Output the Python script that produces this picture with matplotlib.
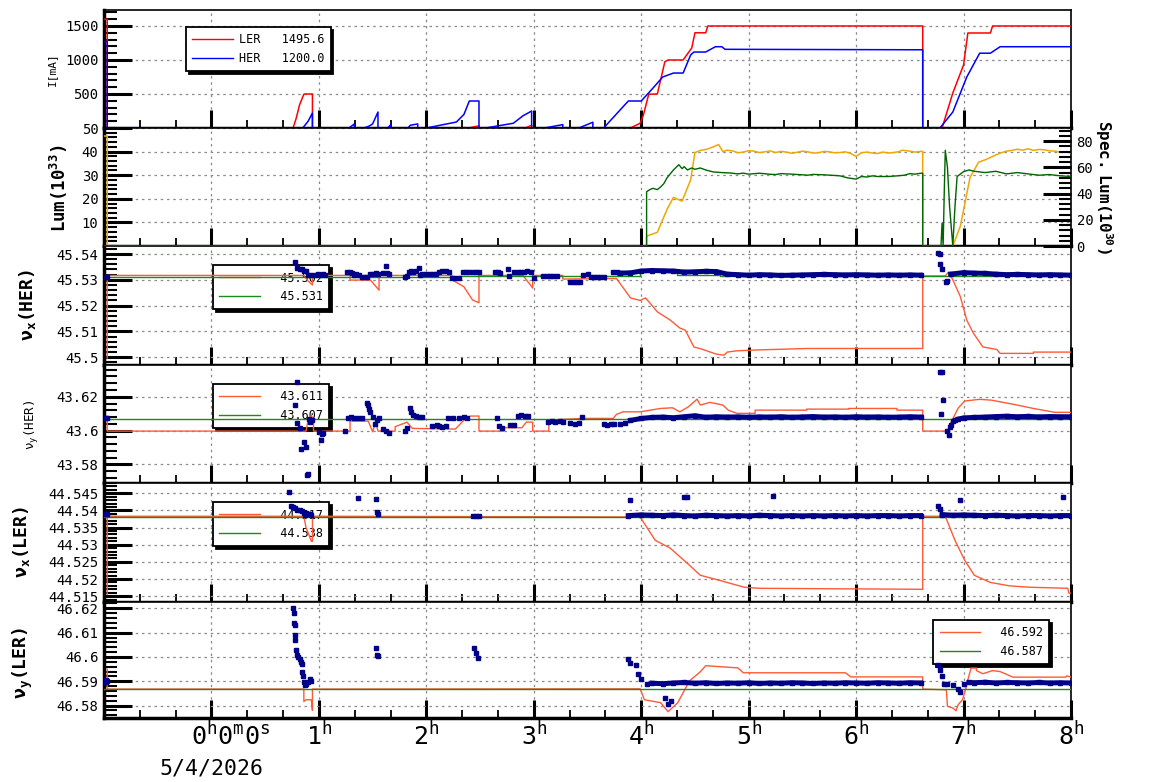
import numpy as np
import matplotlib.pyplot as plt
from matplotlib.ticker import MultipleLocator, FixedLocator, FuncFormatter
from matplotlib.lines import Line2D

plt.rcParams['font.family'] = ['DejaVu Sans Mono', 'DejaVu Sans']
plt.rcParams['mathtext.fontset'] = 'custom'
plt.rcParams['mathtext.rm'] = 'DejaVu Sans Mono'
plt.rcParams['mathtext.it'] = 'DejaVu Sans Mono'
plt.rcParams['mathtext.bf'] = 'DejaVu Sans Mono:bold'

# ---------------- data (time in hours from 0h0m0s) ----------------
# beam currents [mA]
LER_I = [(-1.0, 1600), (-0.97, 1600), (-0.97, 0), (0.76, 0), (0.79, 150), (0.82, 340), (0.86, 497),
         (0.875, 500), (0.94, 500), (0.94, 0), (2.4, 0), (2.45, 20), (2.49, 30), (2.49, 0), (2.92, 0),
         (2.98, 40), (2.98, 0), (3.9, 0), (3.99, 70), (4.02, 190), (4.07, 497), (4.15, 500), (4.22, 975),
         (4.25, 1000), (4.39, 1000), (4.47, 1176), (4.5, 1400), (4.6, 1400), (4.62, 1500), (6.62, 1500),
         (6.62, 0), (6.8, 0), (6.9, 515), (7.0, 926), (7.04, 1397), (7.25, 1397), (7.27, 1500), (8.0, 1500)]
HER_I = [(-1.0, 1270), (-0.97, 1270), (-0.97, 0), (0.85, 0), (0.9, 100), (0.94, 220), (0.94, 0),
         (1.28, 0), (1.33, 60), (1.33, 0), (1.42, 0), (1.47, 30), (1.5, 60), (1.55, 235), (1.55, 0),
         (1.64, 0), (1.67, 50), (1.67, 0), (1.83, 0), (1.85, 40), (1.92, 60), (1.92, 0), (2.0, 0),
         (2.28, 88), (2.35, 200), (2.4, 397), (2.49, 397), (2.49, 0), (2.55, 0), (2.81, 70), (2.9, 180),
         (2.98, 250), (2.98, 0), (3.1, 0), (3.27, 50), (3.27, 0), (3.42, 0), (3.55, 85), (3.55, 0),
         (3.65, 0), (3.88, 397), (4.0, 397), (4.11, 588), (4.2, 750), (4.3, 808), (4.39, 808),
         (4.46, 1073), (4.49, 1117), (4.6, 1117), (4.69, 1195), (4.75, 1195), (4.78, 1157),
         (6.62, 1150), (6.62, 0), (6.78, 0), (6.9, 235), (7.03, 750), (7.15, 1100), (7.25, 1100),
         (7.34, 1195), (8.0, 1195)]

# luminosity (left axis, 10^33) and specific luminosity (right axis, 10^30)
LUM = [(-1.0, 46.6), (-0.97, 46.6), (-0.97, 0), (4.05, 0), (4.05, 4.2), (4.15, 5.8), (4.24, 15.5),
       (4.3, 20.6), (4.38, 19.0), (4.46, 28.0), (4.5, 39.6), (4.55, 40.5), (4.61, 41.0), (4.67, 42.0),
       (4.72, 43.0), (4.76, 40.0), (4.8, 40.6), (4.85, 40.3), (4.9, 39.5), (4.95, 39.8), (5.0, 40.4),
       (5.05, 40.2), (5.1, 39.6), (5.15, 39.9), (5.2, 40.3), (5.25, 39.6), (5.3, 40.1), (5.35, 39.8),
       (5.4, 39.3), (5.45, 39.7), (5.5, 40.2), (5.55, 39.9), (5.6, 39.4), (5.65, 39.5), (5.7, 40.1),
       (5.75, 39.9), (5.8, 39.5), (5.85, 39.6), (5.9, 39.9), (5.95, 39.2), (6.0, 38.0), (6.05, 39.5),
       (6.1, 39.8), (6.15, 39.4), (6.2, 39.2), (6.25, 39.8), (6.3, 39.4), (6.35, 39.6), (6.4, 40.0),
       (6.43, 40.6), (6.5, 40.2), (6.55, 39.8), (6.6, 40.1), (6.62, 40.1), (6.62, 0), (6.9, 0),
       (6.97, 8.4), (7.06, 29.0), (7.14, 35.5), (7.2, 36.5), (7.25, 37.5), (7.3, 38.6), (7.35, 39.5),
       (7.4, 40.2), (7.45, 40.5), (7.5, 41.0), (7.55, 40.6), (7.6, 41.2), (7.65, 40.5), (7.7, 40.9),
       (7.75, 40.8), (7.8, 40.3), (7.85, 40.2), (7.9, 39.7), (7.95, 39.8), (8.0, 39.6)]
SPEC = [(-1.0, 0), (4.05, 0), (4.05, 41.4), (4.08, 43.0), (4.11, 44.0), (4.15, 43.0), (4.18, 45.0),
        (4.21, 47.5), (4.24, 52.0), (4.27, 55.0), (4.3, 58.0), (4.35, 62.0), (4.38, 59.0), (4.4, 60.5),
        (4.43, 58.0), (4.47, 59.5), (4.5, 58.5), (4.55, 59.5), (4.6, 58.0), (4.67, 56.5), (4.75, 56.0),
        (4.83, 55.7), (4.9, 55.0), (4.95, 55.6), (5.0, 54.8), (5.1, 55.5), (5.2, 54.7), (5.25, 54.5),
        (5.3, 55.2), (5.4, 54.8), (5.5, 54.3), (5.55, 54.0), (5.6, 54.6), (5.7, 54.3), (5.8, 53.8),
        (5.85, 53.5), (5.92, 52.0), (6.0, 51.0), (6.05, 53.0), (6.1, 52.6), (6.15, 53.5), (6.2, 53.0),
        (6.3, 53.0), (6.4, 53.6), (6.45, 54.0), (6.5, 55.2), (6.55, 54.8), (6.6, 55.5), (6.62, 55.5),
        (6.62, 0), (6.79, 0), (6.8, 17.5), (6.81, 0), (6.82, 40.0), (6.83, 73.0), (6.85, 60.0),
        (6.87, 30.0), (6.9, 0), (6.92, 30.0), (6.94, 53.0), (7.0, 56.7), (7.05, 58.0), (7.1, 57.0),
        (7.2, 56.0), (7.3, 57.0), (7.4, 55.0), (7.5, 56.0), (7.6, 55.0), (7.7, 54.0), (7.8, 54.5),
        (7.9, 53.5), (8.0, 53.0)]

# nu_x(HER): red = set value trace, green = reference, blue = measured
HERX_RED = [(-0.97, 45.4997), (-0.97, 45.5317), (0.86, 45.5317), (0.9, 45.5295), (0.94, 45.528),
            (0.94, 45.5317), (1.29, 45.5317), (1.29, 45.5299), (1.48, 45.5299), (1.56, 45.526),
            (1.56, 45.5317), (2.24, 45.5317), (2.24, 45.53), (2.35, 45.5273), (2.43, 45.5222),
            (2.49, 45.5211), (2.49, 45.5317), (2.9, 45.5317), (2.99, 45.5268), (2.99, 45.5317),
            (3.27, 45.5317), (3.27, 45.5303), (3.77, 45.5305), (3.9, 45.523), (3.99, 45.522),
            (4.04, 45.523), (4.15, 45.5176), (4.27, 45.5144), (4.36, 45.5113), (4.41, 45.5105),
            (4.49, 45.504), (4.56, 45.5032), (4.7, 45.5012), (4.77, 45.5008), (4.8, 45.502),
            (4.89, 45.5025), (5.06, 45.5028), (5.54, 45.5034), (6.62, 45.5034), (6.62, 45.5315),
            (6.83, 45.5315), (6.86, 45.533), (6.9, 45.53), (6.97, 45.5235), (7.03, 45.5144),
            (7.09, 45.5094), (7.18, 45.504), (7.31, 45.503), (7.34, 45.5015), (7.65, 45.5015),
            (7.65, 45.502), (8.0, 45.502)]
HERX_GREEN = [(-1.0, 45.5309), (2.3, 45.5309), (2.3, 45.5314), (3.99, 45.5314), (3.99, 45.5333),
              (4.33, 45.5333), (4.33, 45.532), (4.73, 45.532), (4.73, 45.5315), (8.0, 45.5315)]
HERX_PTS = [(-0.98, 45.531), (-0.97, 45.531), (0.78, 45.537), (0.8, 45.5345), (0.82, 45.5343),
            (0.84, 45.534), (0.86, 45.5336), (0.88, 45.5333), (0.9, 45.532), (0.93, 45.5318),
            (0.96, 45.532), (0.99, 45.5322), (1.01, 45.532), (1.04, 45.5322), (1.06, 45.532),
            (1.26, 45.5329), (1.29, 45.533), (1.31, 45.5328), (1.33, 45.532), (1.35, 45.5321),
            (1.37, 45.532), (1.4, 45.531), (1.43, 45.5312), (1.45, 45.5311), (1.48, 45.5322),
            (1.5, 45.5324), (1.53, 45.5325), (1.55, 45.5323), (1.6, 45.5325), (1.62, 45.5353),
            (1.63, 45.5326), (1.65, 45.5324), (1.8, 45.5312), (1.82, 45.5313), (1.84, 45.5331),
            (1.86, 45.5333), (1.88, 45.5332), (1.9, 45.5334), (1.93, 45.5347), (1.94, 45.532),
            (1.96, 45.5321), (2.0, 45.5322), (2.03, 45.5323), (2.06, 45.5322), (2.09, 45.5323),
            (2.12, 45.5329), (2.15, 45.5336), (2.18, 45.5334), (2.21, 45.533), (2.24, 45.5306),
            (2.27, 45.5307), (2.3, 45.5306), (2.34, 45.5329), (2.37, 45.533), (2.4, 45.5332),
            (2.43, 45.5331), (2.46, 45.5332), (2.49, 45.533), (2.64, 45.5329), (2.67, 45.533),
            (2.69, 45.5328), (2.76, 45.534), (2.77, 45.5315), (2.82, 45.5329), (2.85, 45.5331),
            (2.88, 45.5332), (2.91, 45.533), (2.94, 45.5333), (2.97, 45.533), (3.0, 45.5306),
            (3.09, 45.5315), (3.12, 45.5316), (3.15, 45.5314), (3.18, 45.5315), (3.22, 45.5316),
            (3.34, 45.5292), (3.37, 45.5293), (3.4, 45.5291), (3.43, 45.5292), (3.46, 45.532),
            (3.5, 45.5321), (3.53, 45.531), (3.56, 45.5311), (3.59, 45.5312), (3.62, 45.531),
            (3.65, 45.5311), (3.74, 45.5329), (3.77, 45.533), (6.76, 45.5402), (6.78, 45.5400),
            (6.78, 45.536), (6.8, 45.534), (6.84, 45.529), (6.85, 45.5295)]
HERX_BAND = [(3.8, 45.5326), (3.9, 45.5327), (4.0, 45.5334), (4.1, 45.5336), (4.2, 45.5335),
             (4.3, 45.5334), (4.4, 45.533), (4.5, 45.5331), (4.6, 45.5333), (4.7, 45.5332),
             (4.8, 45.5322), (4.9, 45.532), (5.0, 45.5318), (5.1, 45.532), (5.2, 45.5319),
             (5.3, 45.5317), (5.4, 45.5318), (5.5, 45.5319), (5.6, 45.532), (5.7, 45.5321),
             (5.8, 45.532), (5.9, 45.5319), (6.0, 45.532), (6.1, 45.5319), (6.2, 45.5318),
             (6.3, 45.5319), (6.4, 45.5318), (6.5, 45.5319), (6.6, 45.5318)]
HERX_BAND2 = [(6.88, 45.5322), (7.0, 45.5328), (7.1, 45.5326), (7.2, 45.5325), (7.3, 45.5322),
              (7.4, 45.532), (7.5, 45.5321), (7.6, 45.532), (7.7, 45.5319), (7.8, 45.532),
              (7.9, 45.5319), (8.0, 45.5318)]

# nu_y(HER)
HERY_RED = [(-0.97, 43.6082), (-0.97, 43.5997), (0.88, 43.5997), (0.9, 43.6062), (0.93, 43.609),
            (0.95, 43.6062), (0.95, 43.5997), (1.29, 43.5997), (1.29, 43.6056), (1.46, 43.6056),
            (1.5, 43.5993), (1.53, 43.6052), (1.55, 43.5997), (1.71, 43.5997), (1.71, 43.6023),
            (1.82, 43.605), (1.87, 43.6013), (2.27, 43.6009), (2.35, 43.6062), (2.41, 43.6086),
            (2.49, 43.6086), (2.49, 43.5997), (2.72, 43.5997), (2.72, 43.6017), (2.89, 43.6017),
            (2.93, 43.605), (2.99, 43.605), (2.99, 43.5997), (3.14, 43.5997), (3.14, 43.6062),
            (3.45, 43.6072), (3.74, 43.6072), (3.77, 43.6096), (3.83, 43.6111), (3.99, 43.6111),
            (4.18, 43.6131), (4.29, 43.6135), (4.36, 43.6111), (4.44, 43.6141), (4.52, 43.6186),
            (4.55, 43.6151), (4.64, 43.6167), (4.76, 43.6151), (4.81, 43.6121), (4.89, 43.6102),
            (5.06, 43.6102), (5.06, 43.6121), (5.54, 43.6121), (5.54, 43.6127), (5.93, 43.6127),
            (5.93, 43.6131), (6.38, 43.6131), (6.38, 43.6121), (6.62, 43.6121), (6.62, 43.5997),
            (6.83, 43.5997), (6.85, 43.5985), (6.88, 43.6044), (6.95, 43.6133), (7.01, 43.6175),
            (7.15, 43.6185), (7.26, 43.618), (7.5, 43.6151), (7.65, 43.6131), (7.85, 43.6108),
            (8.0, 43.6108)]
HERY_GREEN = [(-1.0, 43.6068), (8.0, 43.6068)]
HERY_PTS = [(-0.98, 43.6075), (-0.97, 43.6072), (0.78, 43.615), (0.8, 43.6289), (0.8, 43.6046),
            (0.82, 43.6017), (0.83, 43.589), (0.86, 43.5932), (0.88, 43.59), (0.89, 43.574),
            (0.9, 43.5745), (0.91, 43.6068), (0.92, 43.6052), (0.94, 43.606), (1.0, 43.5993),
            (1.02, 43.5944), (1.03, 43.598), (1.04, 43.5985), (1.24, 43.6), (1.27, 43.6076),
            (1.3, 43.6078), (1.33, 43.6076), (1.36, 43.6077), (1.4, 43.6075), (1.45, 43.6161),
            (1.46, 43.615), (1.47, 43.613), (1.48, 43.611), (1.5, 43.608), (1.52, 43.604),
            (1.54, 43.606), (1.56, 43.6075), (1.6, 43.601), (1.62, 43.6), (1.65, 43.5985),
            (1.8, 43.6), (1.82, 43.6015), (1.85, 43.6133), (1.86, 43.611), (1.88, 43.609),
            (1.9, 43.6085), (1.93, 43.608), (1.96, 43.6078), (2.05, 43.603), (2.1, 43.6036),
            (2.12, 43.603), (2.15, 43.602), (2.18, 43.6025), (2.2, 43.6074), (2.25, 43.6076),
            (2.3, 43.6074), (2.35, 43.6078), (2.38, 43.6075), (2.66, 43.6076), (2.68, 43.603),
            (2.7, 43.6015), (2.78, 43.6033), (2.82, 43.6035), (2.85, 43.6088), (2.88, 43.609),
            (2.92, 43.6087), (2.95, 43.6088), (3.13, 43.6052), (3.17, 43.6055), (3.2, 43.6052),
            (3.24, 43.6054), (3.27, 43.6052), (3.34, 43.6042), (3.38, 43.604), (3.42, 43.6043),
            (3.45, 43.6078), (3.65, 43.6037), (3.68, 43.6035), (3.72, 43.6038), (3.75, 43.604),
            (3.8, 43.604), (3.85, 43.6045), (6.78, 43.6348), (6.8, 43.6345), (6.81, 43.618),
            (6.79, 43.61), (6.85, 43.6), (6.86, 43.5975), (6.87, 43.602), (6.88, 43.6035),
            (6.9, 43.6055), (6.92, 43.6065)]
HERY_BAND = [(3.9, 43.606), (4.0, 43.6072), (4.1, 43.6078), (4.2, 43.608), (4.3, 43.6076),
             (4.4, 43.6082), (4.5, 43.6088), (4.6, 43.6079), (4.7, 43.6082), (4.8, 43.608),
             (4.9, 43.6081), (5.0, 43.6079), (5.1, 43.6081), (5.2, 43.608), (5.3, 43.6082),
             (5.4, 43.6079), (5.5, 43.6081), (5.6, 43.6083), (5.7, 43.608), (5.8, 43.6081),
             (5.9, 43.6079), (6.0, 43.6082), (6.1, 43.608), (6.2, 43.6081), (6.3, 43.6079),
             (6.4, 43.608), (6.5, 43.6082), (6.6, 43.608)]
HERY_BAND2 = [(6.95, 43.6068), (7.0, 43.6075), (7.1, 43.6078), (7.2, 43.608), (7.3, 43.6083),
              (7.4, 43.6085), (7.5, 43.6082), (7.6, 43.6084), (7.7, 43.6081), (7.8, 43.6083),
              (7.9, 43.6082), (8.0, 43.6082)]

# nu_x(LER)
LERX_RED = [(-0.97, 44.5156), (-0.97, 44.5383), (0.86, 44.5383), (0.88, 44.535), (0.9, 44.5335),
            (0.93, 44.531), (0.94, 44.531), (0.94, 44.5383), (3.99, 44.5381), (4.13, 44.5313),
            (4.27, 44.529), (4.45, 44.524), (4.55, 44.5211), (4.73, 44.5196), (4.96, 44.5176),
            (5.1, 44.5173), (6.62, 44.517), (6.62, 44.5383), (6.83, 44.5383), (6.92, 44.5313),
            (7.01, 44.5255), (7.1, 44.5211), (7.25, 44.519), (7.43, 44.518), (7.62, 44.5176),
            (7.97, 44.5173), (7.98, 44.5159), (8.0, 44.5159)]
LERX_GREEN = [(-1.0, 44.538), (8.0, 44.538)]
LERX_PTS = [(-0.98, 44.5389), (-0.97, 44.5389), (0.72, 44.5455), (0.74, 44.5412), (0.76, 44.541),
            (0.78, 44.5406), (0.8, 44.5402), (0.82, 44.54), (0.84, 44.5398), (0.86, 44.5392),
            (0.87, 44.5387), (0.88, 44.5393), (0.9, 44.539), (0.92, 44.5389), (0.93, 44.5387),
            (1.36, 44.5436), (1.53, 44.5433), (1.54, 44.5395), (1.55, 44.539), (2.43, 44.5383),
            (2.46, 44.5384), (2.49, 44.5383), (3.9, 44.543), (4.4, 44.544), (4.43, 44.544),
            (5.23, 44.5442), (6.76, 44.5412), (6.78, 44.5405), (6.97, 44.543), (7.93, 44.544)]
LERX_BAND = [(3.88, 44.5385), (4.0, 44.5387), (4.1, 44.5386), (4.2, 44.5385), (4.3, 44.5387),
             (4.4, 44.5385), (4.5, 44.5384), (4.6, 44.5386), (4.7, 44.5385), (4.8, 44.5384),
             (4.9, 44.5385), (5.0, 44.5384), (5.1, 44.5386), (5.2, 44.5385), (5.3, 44.5384),
             (5.4, 44.5385), (5.5, 44.5384), (5.6, 44.5385), (5.7, 44.5384), (5.8, 44.5385),
             (5.9, 44.5384), (6.0, 44.5385), (6.1, 44.5384), (6.2, 44.5385), (6.3, 44.5385),
             (6.4, 44.5384), (6.5, 44.5385), (6.6, 44.5385)]
LERX_BAND2 = [(6.8, 44.5388), (6.9, 44.5386), (7.0, 44.5387), (7.1, 44.5386), (7.2, 44.5385),
              (7.3, 44.5386), (7.4, 44.5385), (7.5, 44.5384), (7.6, 44.5385), (7.7, 44.5385),
              (7.8, 44.5384), (7.9, 44.5385), (8.0, 44.5385)]

# nu_y(LER)
LERY_RED = [(-0.97, 46.595), (-0.97, 46.5868), (0.86, 46.5868), (0.86, 46.5817), (0.88, 46.5824),
            (0.93, 46.5824), (0.94, 46.578), (0.94, 46.5868), (3.99, 46.5869), (4.03, 46.5824),
            (4.18, 46.5812), (4.25, 46.5775), (4.34, 46.5812), (4.45, 46.5902), (4.55, 46.5939),
            (4.6, 46.5964), (4.9, 46.5955), (4.95, 46.5935), (5.9, 46.5935), (5.95, 46.5918),
            (6.62, 46.5918), (6.62, 46.5868), (6.84, 46.5865), (6.85, 46.5797), (6.9, 46.579),
            (6.93, 46.5779), (6.95, 46.5804), (6.99, 46.5824), (7.02, 46.5868), (7.04, 46.5906),
            (7.07, 46.5954), (7.12, 46.5954), (7.12, 46.5944), (7.18, 46.5931), (7.27, 46.5944),
            (7.34, 46.594), (7.46, 46.5917), (7.95, 46.5917), (7.96, 46.5922), (8.0, 46.5917)]
LERY_GREEN = [(-1.0, 46.5868), (8.0, 46.5868)]
LERY_PTS = [(-0.98, 46.5895), (-0.97, 46.59), (-0.98, 46.5905), (0.76, 46.62), (0.765, 46.618),
            (0.77, 46.614), (0.775, 46.613), (0.78, 46.609), (0.78, 46.607), (0.79, 46.603),
            (0.8, 46.601), (0.81, 46.6), (0.82, 46.599), (0.83, 46.598), (0.84, 46.597),
            (0.845, 46.594), (0.85, 46.592), (0.86, 46.5895), (0.87, 46.5885), (0.88, 46.589),
            (0.9, 46.5895), (0.92, 46.591), (0.93, 46.59), (1.53, 46.6035), (1.54, 46.601),
            (1.55, 46.6005), (2.44, 46.6035), (2.46, 46.6015), (2.48, 46.5995), (3.88, 46.599),
            (3.9, 46.5975), (3.95, 46.5965), (3.97, 46.593), (4.0, 46.591), (4.05, 46.589),
            (4.22, 46.583), (4.25, 46.5805), (4.28, 46.582), (6.76, 46.5965), (6.78, 46.5945),
            (6.8, 46.592), (6.82, 46.589), (6.85, 46.589), (6.9, 46.5885), (6.95, 46.587),
            (6.97, 46.5855), (7.0, 46.589)]
LERY_BAND = [(4.1, 46.5892), (4.2, 46.589), (4.3, 46.5893), (4.4, 46.5895), (4.5, 46.5892),
             (4.6, 46.5894), (4.7, 46.5891), (4.8, 46.5893), (4.9, 46.5892), (5.0, 46.5894),
             (5.1, 46.5891), (5.2, 46.5893), (5.3, 46.5892), (5.4, 46.5894), (5.5, 46.5893),
             (5.6, 46.5891), (5.7, 46.5893), (5.8, 46.5892), (5.9, 46.5894), (6.0, 46.5893),
             (6.1, 46.5892), (6.2, 46.5894), (6.3, 46.5893), (6.4, 46.5892), (6.5, 46.5894),
             (6.6, 46.5893)]
LERY_BAND2 = [(7.05, 46.5895), (7.1, 46.5894), (7.2, 46.5896), (7.3, 46.5893), (7.4, 46.5895),
              (7.5, 46.5894), (7.6, 46.5893), (7.7, 46.5895), (7.8, 46.5893), (7.9, 46.5894),
              (8.0, 46.5893)]

HOURS = [1, 2, 3, 4, 5, 6, 7, 8]

RED = '#ff0000'
BLUE = '#0000ff'
ORANGE = '#f0a800'
DKGREEN = '#006400'
TRED = '#ff5a36'
TGREEN = '#1a8a1a'
NAVY = '#000088'


def xy(pairs):
    a = np.array(pairs, dtype=float)
    return a[:, 0], a[:, 1]


fig = plt.figure(figsize=(11.54, 7.82), dpi=100)
L, W = 104 / 1154, 967 / 1154
rows = [(10, 128), (128, 246), (246, 365), (365, 483), (483, 602), (602, 718)]
axes = []
for top, bot in rows:
    axes.append(fig.add_axes([L, 1 - bot / 782, W, (bot - top) / 782]))


def style(ax, majors, minor, ylim):
    ax.set_xlim(-1, 8)
    ax.set_ylim(*ylim)
    ax.xaxis.set_major_locator(MultipleLocator(1))
    ax.xaxis.set_minor_locator(MultipleLocator(1 / 3))
    ax.yaxis.set_major_locator(FixedLocator(majors))
    ax.yaxis.set_minor_locator(MultipleLocator(minor))
    ax.yaxis.set_major_formatter(FuncFormatter(lambda v, p: '%g' % round(v, 4)))
    ax.tick_params(axis='x', which='major', direction='in', length=13, width=2.2,
                   top=False, labelbottom=False)
    ax.tick_params(axis='x', which='minor', direction='in', length=6, width=1.3, top=False)
    ax.tick_params(axis='y', which='major', direction='in', length=20, width=2.2,
                   right=False, labelsize=10, pad=4)
    ax.tick_params(axis='y', which='minor', direction='in', length=9, width=1.5, right=False)
    ax.grid(True, which='major', color='#8a8a8a', ls=(0, (2, 3)), lw=0.9)
    for s in ax.spines.values():
        s.set_linewidth(1.2)
    ax.spines['left'].set_linewidth(2.5)
    ax.spines['bottom'].set_linewidth(2.5)


def legend(ax, handles, labels, anchor):
    leg = ax.legend(handles, labels, loc='upper left', bbox_to_anchor=anchor,
                    borderaxespad=0, fontsize=8.5, handlelength=3.4, handletextpad=0.5,
                    labelspacing=0.45, borderpad=0.55, fancybox=False, framealpha=1,
                    edgecolor='black', shadow={'color': 'black', 'alpha': 1})
    leg.get_frame().set_linewidth(1.3)
    leg.set_zorder(2.5)
    return leg


def line(c, lw=1.0):
    return Line2D([], [], color=c, lw=lw)


# ---- panel 1: currents
ax = axes[0]
style(ax, [500, 1000, 1500], 100, (0, 1735))
ax.plot(*xy(LER_I), color=RED, lw=1.1, zorder=3)
ax.plot(*xy(HER_I), color=BLUE, lw=1.1, zorder=3)
ax.set_ylabel('I[mA]', fontsize=8)
ax.yaxis.set_label_coords(-0.0486, 0.5)
legend(ax, [line(RED), line(BLUE)], ['LER   1495.6', 'HER   1200.0'], (0.0848, 0.856))

# ---- panel 2: luminosity
ax = axes[1]
style(ax, [10, 20, 30, 40, 50], 2, (0, 50))
ax.plot(*xy(LUM), color=ORANGE, lw=1.1, zorder=3)
ax.set_ylabel(r'$\mathbf{Lum(10^{33})}$', fontsize=12.5)
ax.yaxis.set_label_coords(-0.035, 0.49)
ax2 = ax.twinx()
ax2.set_ylim(0, 90)
ax2.yaxis.set_major_locator(FixedLocator([0, 20, 40, 60, 80]))
ax2.yaxis.set_minor_locator(MultipleLocator(4))
ax2.tick_params(axis='y', which='major', direction='in', length=20, width=2.2,
                labelsize=10, pad=4)
ax2.tick_params(axis='y', which='minor', direction='in', length=9, width=1.5)
ax2.plot(*xy(SPEC), color=DKGREEN, lw=1.0, zorder=3)
ax2.set_ylabel(r'$\mathbf{Spec.\ Lum(10^{30})}$', fontsize=11.5, rotation=-90,
               va='center', ha='center')
ax2.yaxis.set_label_coords(1.034, 0.50)
for s in ax2.spines.values():
    s.set_visible(False)

# ---- tune panels
tune = [
    (axes[2], [45.50, 45.51, 45.52, 45.53, 45.54], 0.002, (45.497, 45.5431),
     HERX_RED, HERX_GREEN, HERX_PTS, [HERX_BAND, HERX_BAND2],
     r'$\mathbf{\nu_{x}(HER)}$', 13, (-0.068, 0.5), ('  45.502', '  45.531'), (0.1127, 0.840)),
    (axes[3], [43.58, 43.60, 43.62], 0.004, (43.569, 43.6388),
     HERY_RED, HERY_GREEN, HERY_PTS, [HERY_BAND, HERY_BAND2],
     r'$\nu_{y}(HER)$', 9, (-0.065, 0.496), ('  43.611', '  43.607'), (0.1127, 0.839)),
    (axes[4], [44.515, 44.52, 44.525, 44.53, 44.535, 44.54, 44.545], 0.001, (44.5133, 44.548),
     LERX_RED, LERX_GREEN, LERX_PTS, [LERX_BAND, LERX_BAND2],
     r'$\mathbf{\nu_{x}(LER)}$', 13, (-0.0745, 0.5), ('  44.517', '  44.538'), (0.1127, 0.840)),
    (axes[5], [46.58, 46.59, 46.60, 46.61, 46.62], 0.002, (46.5749, 46.6226),
     LERY_RED, LERY_GREEN, LERY_PTS, [LERY_BAND, LERY_BAND2],
     r'$\mathbf{\nu_{y}(LER)}$', 13, (-0.071, 0.478), ('  46.592', '  46.587'), (0.8573, 0.845)),
]
for ax, maj, mnr, ylim, red, green, pts, bands, lab, fs, lc, leglab, anchor in tune:
    style(ax, maj, mnr, ylim)
    ax.plot(*xy(red), color=TRED, lw=1.0, zorder=3)
    ax.plot(*xy(green), color=TGREEN, lw=1.0, zorder=3.1)
    for b in bands:
        ax.plot(*xy(b), color=NAVY, lw=3.6, marker='s', ms=3.0, zorder=4)
    ax.plot(*xy(pts), ls='none', color=NAVY, marker='s', ms=3.0, zorder=4)
    ax.set_ylabel(lab, fontsize=fs)
    ax.yaxis.set_label_coords(*lc)
    legend(ax, [line(TRED), line(TGREEN)], list(leglab), anchor)

# ---- time axis labels on the bottom panel
ax = axes[5]
ax.set_xticks([-1, 0] + HOURS)
ax.set_xticklabels(['', ''] + [r'$%d^h$' % h for h in HOURS])
ax.tick_params(axis='x', which='major', labelbottom=True, labelsize=18, pad=3)
ax.annotate(r'$0^h0^m0^s$', xy=(0.18, 0), xycoords=('data', 'axes fraction'),
            xytext=(0, -3), textcoords='offset points', ha='center', va='top', fontsize=18)
ax.annotate('5/4/2026', xy=(0.0, 0), xycoords=('data', 'axes fraction'),
            xytext=(0, -29), textcoords='offset points', ha='center', va='top', fontsize=15.5)

fig.savefig('out.png', dpi=100)
